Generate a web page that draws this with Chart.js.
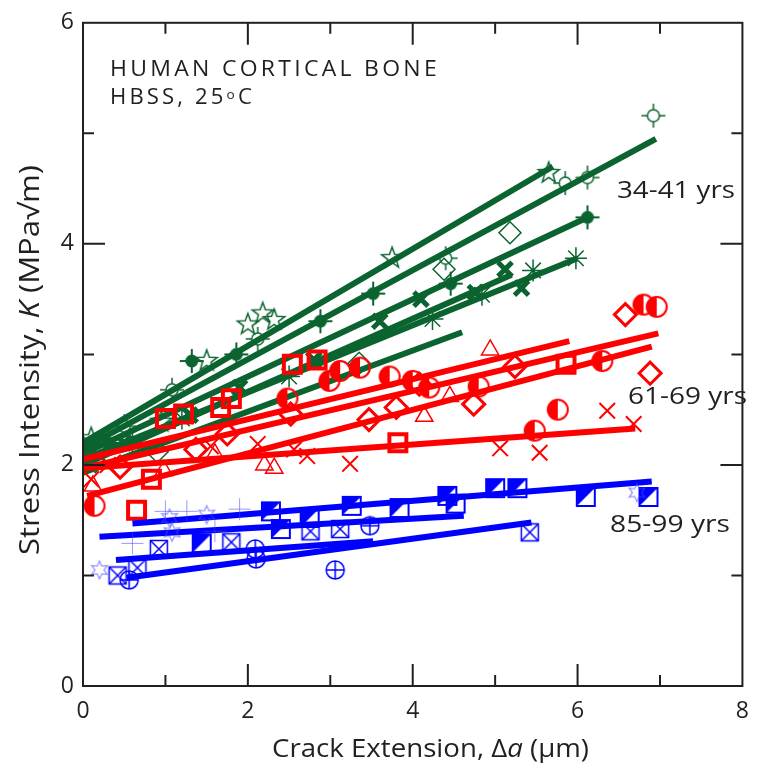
<!DOCTYPE html>
<html>
<head>
<meta charset="utf-8">
<script src="https://cdn.jsdelivr.net/npm/chart.js@4.4.0/dist/chart.umd.min.js"></script>
<style>
  html, body { margin: 0; padding: 0; background: #fff; }
</style>
</head>
<body>
<canvas id="chart" width="761" height="769"></canvas>
<script>
// axis ticks
const xTickValues = [0, 2, 4, 6, 8];
const yTickValues = [0, 2, 4, 6];

// 34-41 yrs (green) - fit lines and data points, [crack extension, K]
const fitG1 = [[0, 2.2], [5.7, 4.7]];
const fitG2 = [[0, 2.15], [6.95, 4.95]];
const fitG3 = [[0, 2.1], [6.15, 4.25]];
const fitG4 = [[0, 2.05], [6.0, 3.87]];
const fitG5 = [[0, 2.0], [5.2, 3.72]];
const fitG6 = [[0, 1.93], [4.6, 3.2]];
const ptsGStar = [[0.1, 2.25], [0.95, 2.4], [1.5, 2.95], [2.0, 3.28], [2.18, 3.38], [2.32, 3.32], [3.75, 3.88], [5.65, 4.65]];
const ptsGSun = [[0.5, 2.35], [1.08, 2.68], [2.12, 3.14], [4.4, 3.87], [5.85, 4.55], [6.12, 4.6], [6.92, 5.16]];
const ptsGDot = [[0.3, 2.2], [1.32, 2.94], [1.86, 3.0], [2.88, 3.3], [3.52, 3.55], [4.46, 3.64], [6.12, 4.24]];
const ptsGAst = [[0.6, 2.2], [1.2, 2.42], [2.5, 2.8], [4.24, 3.32], [4.84, 3.54], [5.46, 3.76], [5.98, 3.87]];
const ptsGX = [[0.5, 2.2], [1.3, 2.45], [1.9, 2.7], [2.8, 2.95], [3.6, 3.3], [4.1, 3.5], [4.76, 3.56], [5.12, 3.77], [5.32, 3.6]];
const ptsGDia = [[0.15, 2.03], [0.9, 2.12], [3.35, 2.92], [4.38, 3.77], [5.18, 4.1]];

// 61-69 yrs (red)
const fitR1 = [[0, 2.05], [5.9, 3.12]];
const fitR2 = [[0, 1.97], [6.98, 3.19]];
const fitR3 = [[0.05, 1.72], [6.9, 3.07]];
const fitR4 = [[0, 1.97], [6.7, 2.33]];
const ptsRSq = [[0.65, 1.59], [0.83, 1.87], [1.0, 2.42], [1.22, 2.46], [1.67, 2.52], [1.8, 2.6], [2.54, 2.91], [2.84, 2.95], [3.82, 2.2], [5.86, 2.91]];
const ptsRHalf = [[0.14, 1.63], [2.48, 2.6], [2.99, 2.76], [3.12, 2.85], [3.36, 2.88], [3.72, 2.8], [4.0, 2.76], [4.2, 2.7], [4.8, 2.71], [5.48, 2.31], [5.76, 2.5], [6.3, 2.94], [6.8, 3.45], [6.96, 3.43]];
const ptsRDia = [[0.45, 1.98], [1.37, 2.14], [1.75, 2.28], [2.52, 2.46], [3.47, 2.41], [3.8, 2.52], [4.08, 2.73], [4.74, 2.55], [5.24, 2.89], [6.58, 3.36], [6.88, 2.83]];
const ptsRTri = [[0.12, 1.81], [0.98, 1.95], [1.6, 2.1], [2.2, 2.0], [2.32, 1.97], [4.14, 2.44], [4.45, 2.62], [4.94, 3.04]];
const ptsRX = [[0.1, 1.87], [0.3, 2.0], [1.55, 2.17], [2.12, 2.19], [2.56, 2.14], [2.72, 2.08], [3.24, 2.01], [5.06, 2.15], [5.54, 2.11], [6.36, 2.49], [6.68, 2.37]];

// 85-99 yrs (blue)
const fitB1 = [[0.6, 1.47], [6.9, 1.85]];
const fitB2 = [[0.2, 1.35], [4.62, 1.54]];
const fitB3 = [[0.4, 1.14], [3.52, 1.31]];
const fitB4 = [[0.53, 0.98], [5.44, 1.48]];
const ptsBHalf = [[1.44, 1.29], [2.28, 1.58], [2.4, 1.42], [2.75, 1.52], [3.26, 1.63], [3.84, 1.61], [4.42, 1.72], [4.52, 1.65], [5.0, 1.79], [5.27, 1.79], [6.1, 1.71], [6.86, 1.71]];
const ptsBXSq = [[0.42, 1.0], [0.66, 1.07], [0.92, 1.24], [1.8, 1.3], [2.76, 1.4], [3.12, 1.42], [5.42, 1.39]];
const ptsBCirc = [[0.56, 0.96], [2.09, 1.24], [2.1, 1.15], [3.06, 1.05], [3.48, 1.45]];
const ptsBPlus = [[0.6, 1.29], [1.0, 1.58], [1.26, 1.58], [1.6, 1.4], [1.9, 1.6]];
const ptsBStar = [[0.2, 1.05], [1.05, 1.52], [1.08, 1.39], [1.5, 1.55], [6.72, 1.75]];

const ink = '#231f20';
const green = '#0b6430';
const red = '#ff0000';
const blue = '#0000ff';
const paleBlue = 'rgba(70,70,255,0.55)';
const FONT = '"Open Sans", "DejaVu Sans", sans-serif';

const xy = arr => arr.map(p => ({x: p[0], y: p[1]}));

// little canvases for the symbols chart.js does not have
function marker(size, draw) {
  const c = document.createElement('canvas');
  c.width = c.height = size;
  const ctx = c.getContext('2d');
  draw(ctx, size / 2);
  return c;
}

const starMark = marker(26, (ctx, m) => {
  ctx.strokeStyle = green; ctx.lineWidth = 1.5;
  ctx.beginPath();
  for (let i = 0; i < 10; i++) {
    const r = i % 2 ? 4.5 : 11, a = -Math.PI / 2 + i * Math.PI / 5;
    ctx.lineTo(m + r * Math.cos(a), m + 1 + r * Math.sin(a));
  }
  ctx.closePath(); ctx.stroke();
});

const sunMark = marker(26, (ctx, m) => {
  ctx.strokeStyle = green; ctx.lineWidth = 1.5;
  ctx.beginPath(); ctx.arc(m, m, 6, 0, Math.PI * 2); ctx.stroke();
  ctx.beginPath();
  ctx.moveTo(m - 12, m); ctx.lineTo(m - 6, m);
  ctx.moveTo(m + 6, m); ctx.lineTo(m + 12, m);
  ctx.moveTo(m, m - 12); ctx.lineTo(m, m - 6);
  ctx.moveTo(m, m + 6); ctx.lineTo(m, m + 12);
  ctx.stroke();
});

const dotMark = marker(26, (ctx, m) => {
  ctx.fillStyle = green; ctx.strokeStyle = green; ctx.lineWidth = 2;
  ctx.beginPath(); ctx.arc(m, m, 6.5, 0, Math.PI * 2); ctx.fill();
  ctx.beginPath();
  ctx.moveTo(m - 12, m); ctx.lineTo(m + 12, m);
  ctx.moveTo(m, m - 12); ctx.lineTo(m, m + 12);
  ctx.stroke();
});

const halfCircle = marker(26, (ctx, m) => {
  ctx.fillStyle = red; ctx.strokeStyle = red; ctx.lineWidth = 2;
  ctx.beginPath(); ctx.arc(m, m, 10, Math.PI / 2, Math.PI * 1.5); ctx.closePath(); ctx.fill();
  ctx.beginPath(); ctx.arc(m, m, 10, 0, Math.PI * 2); ctx.stroke();
});

const halfSquare = marker(24, (ctx, m) => {
  ctx.fillStyle = blue; ctx.strokeStyle = blue; ctx.lineWidth = 2;
  ctx.beginPath(); ctx.moveTo(m - 9, m - 9); ctx.lineTo(m + 9, m - 9); ctx.lineTo(m - 9, m + 9); ctx.closePath(); ctx.fill();
  ctx.strokeRect(m - 9, m - 9, 18, 18);
});

const crossSquare = marker(24, (ctx, m) => {
  ctx.strokeStyle = blue; ctx.lineWidth = 1.5;
  ctx.strokeRect(m - 8.5, m - 8.5, 17, 17);
  ctx.beginPath();
  ctx.moveTo(m - 8.5, m - 8.5); ctx.lineTo(m + 8.5, m + 8.5);
  ctx.moveTo(m + 8.5, m - 8.5); ctx.lineTo(m - 8.5, m + 8.5);
  ctx.stroke();
});

const crossCircle = marker(24, (ctx, m) => {
  ctx.strokeStyle = blue; ctx.lineWidth = 1.5;
  ctx.beginPath(); ctx.arc(m, m, 9, 0, Math.PI * 2);
  ctx.moveTo(m - 9, m); ctx.lineTo(m + 9, m);
  ctx.moveTo(m, m - 9); ctx.lineTo(m, m + 9);
  ctx.stroke();
});

const paleStar = marker(24, (ctx, m) => {
  ctx.strokeStyle = paleBlue; ctx.lineWidth = 1.3;
  ctx.beginPath();
  for (let i = 0; i < 12; i++) {
    const r = i % 2 ? 4.5 : 9, a = -Math.PI / 2 + i * Math.PI / 6;
    ctx.lineTo(m + r * Math.cos(a), m + r * Math.sin(a));
  }
  ctx.closePath(); ctx.stroke();
});

function fit(data, color) {
  return {data: xy(data), showLine: true, borderColor: color, borderWidth: 6,
          pointRadius: 0, borderCapStyle: 'butt'};
}
function pts(data, style, opts) {
  return Object.assign({data: xy(data), showLine: false, pointStyle: style,
                        pointRadius: 10, borderWidth: 1.5}, opts);
}

const datasets = [
  pts(ptsBPlus, 'cross', {borderColor: paleBlue, pointRadius: 11, borderWidth: 1}),
  pts(ptsBStar, paleStar),
  pts(ptsBHalf, halfSquare),
  pts(ptsBXSq, crossSquare),
  pts(ptsBCirc, crossCircle),
  fit(fitB1, blue), fit(fitB2, blue), fit(fitB3, blue), fit(fitB4, blue),

  pts(ptsRSq, 'rect', {borderColor: red, backgroundColor: 'rgba(0,0,0,0)', pointRadius: 12, borderWidth: 4}),
  pts(ptsRHalf, halfCircle),
  pts(ptsRDia, 'rectRot', {borderColor: red, backgroundColor: 'rgba(0,0,0,0)', pointRadius: 11, borderWidth: 3}),
  pts(ptsRTri, 'triangle', {borderColor: red, backgroundColor: 'rgba(0,0,0,0)', pointRadius: 10, borderWidth: 1.5}),
  pts(ptsRX, 'crossRot', {borderColor: red, pointRadius: 11, borderWidth: 2}),
  fit(fitR1, red), fit(fitR2, red), fit(fitR3, red), fit(fitR4, red),

  pts(ptsGStar, starMark),
  pts(ptsGSun, sunMark),
  pts(ptsGDot, dotMark),
  pts(ptsGAst, 'star', {borderColor: green, pointRadius: 11, borderWidth: 1.5}),
  pts(ptsGX, 'crossRot', {borderColor: green, pointRadius: 10, borderWidth: 5}),
  pts(ptsGDia, 'rectRot', {borderColor: green, backgroundColor: 'rgba(0,0,0,0)', pointRadius: 11, borderWidth: 1.5}),
  fit(fitG1, green), fit(fitG2, green), fit(fitG3, green), fit(fitG4, green), fit(fitG5, green), fit(fitG6, green)
];

// text made of runs with different fonts: [text, font, dy];
// stretched sideways so that it spans `width` px starting at x
function runs(ctx, parts, x, y, width, spacing) {
  ctx.letterSpacing = (spacing || 0) + 'px';
  let total = 0;
  for (const p of parts) { ctx.font = p[1]; total += ctx.measureText(p[0]).width; }
  ctx.save();
  ctx.translate(x, y);
  ctx.scale(width / total, 1);
  let cx = 0;
  for (const p of parts) {
    ctx.font = p[1];
    ctx.fillText(p[0], cx, p[2] || 0);
    cx += ctx.measureText(p[0]).width;
  }
  ctx.restore();
  ctx.letterSpacing = '0px';
}

const frame = {
  id: 'frame',
  afterDraw(chart) {
    const {ctx, chartArea: a, scales: {x, y}} = chart;
    ctx.save();
    ctx.strokeStyle = ink; ctx.lineWidth = 2;
    ctx.strokeRect(a.left, a.top, a.right - a.left, a.bottom - a.top);
    ctx.beginPath();
    for (let v = 1; v < 8; v++) {
      const len = v % 2 ? 11 : 22, px = x.getPixelForValue(v);
      ctx.moveTo(px, a.bottom); ctx.lineTo(px, a.bottom - len);
      ctx.moveTo(px, a.top); ctx.lineTo(px, a.top + len);
    }
    for (let v = 1; v < 6; v++) {
      const len = v % 2 ? 11 : 22, py = y.getPixelForValue(v);
      ctx.moveTo(a.left, py); ctx.lineTo(a.left + len, py);
      ctx.moveTo(a.right, py); ctx.lineTo(a.right - len, py);
    }
    ctx.stroke();

    ctx.fillStyle = ink;
    ctx.textBaseline = 'middle';
    const f = s => s + 'px ' + FONT;
    const fi = s => 'italic ' + s + 'px ' + FONT;

    // axis titles
    runs(ctx, [['Crack Extension, ', f(25)], ['\u0394', f(25)], ['a', fi(25)], [' (\u03bcm)', f(25)]],
         272, 750, 317);
    ctx.save();
    ctx.translate(31, 555);
    ctx.rotate(-Math.PI / 2);
    runs(ctx, [['Stress Intensity, ', f(27)], ['K', fi(27)], [' (MPa\u221am)', f(27)]], 0, 0, 390);
    ctx.restore();

    // notes inside the plot
    runs(ctx, [['HUMAN CORTICAL BONE', f(21)]], 110, 70, 330, 3);
    runs(ctx, [['HBSS, 25', f(21)], ['o', f(13), -3], ['C', f(21)]], 110, 98, 145, 3);
    runs(ctx, [['34-41 yrs', f(23)]], 617, 191, 118);
    runs(ctx, [['61-69 yrs', f(23)]], 628, 397, 119);
    runs(ctx, [['85-99 yrs', f(23)]], 610, 525, 120);
    ctx.restore();
  }
};

new Chart(document.getElementById('chart'), {
  type: 'scatter',
  data: {datasets},
  options: {
    responsive: false,
    animation: false,
    layout: {padding: {top: 20, right: 11, left: 0, bottom: 0}},
    plugins: {legend: {display: false}, tooltip: {enabled: false}},
    scales: {
      x: {
        min: 0, max: 8,
        afterBuildTicks: s => { s.ticks = xTickValues.map(v => ({value: v})); },
        afterFit: s => { s.height = 83; },
        grid: {display: false, drawTicks: false},
        border: {display: false},
        ticks: {color: ink, padding: 12, font: {family: FONT, size: 23}}
      },
      y: {
        min: 0, max: 6,
        afterBuildTicks: s => { s.ticks = yTickValues.map(v => ({value: v})); },
        afterFit: s => { s.width = 83; },
        grid: {display: false, drawTicks: false},
        border: {display: false},
        ticks: {color: ink, padding: 9, font: {family: FONT, size: 23}}
      }
    }
  },
  plugins: [frame]
});
</script>
</body>
</html>
